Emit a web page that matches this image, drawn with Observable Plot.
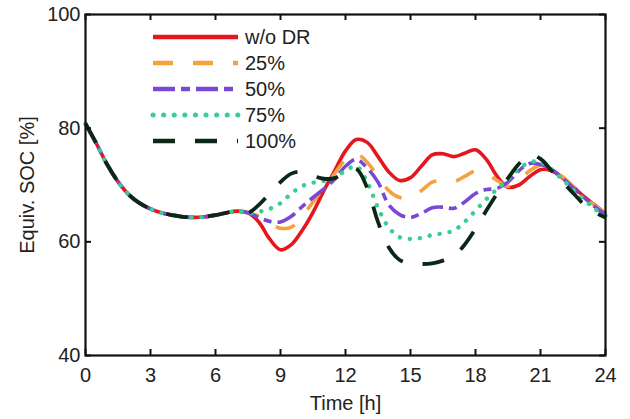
<!DOCTYPE html>
<html>
<head>
<meta charset="utf-8">
<script src="https://cdn.jsdelivr.net/npm/d3@7"></script>
<script src="https://cdn.jsdelivr.net/npm/@observablehq/plot@0.6"></script>
<style>
  body { margin: 0; background: #fff; }
  #chart { position: relative; width: 630px; height: 419px; font-family: "Liberation Sans", Arial, sans-serif; }
  #chart svg.legend { position: absolute; left: 0; top: 0; pointer-events: none; }
</style>
</head>
<body>
<div id="chart"></div>
<script>
// Time axis (hours), sampled every half hour
const hours = [0, 0.5, 1, 1.5, 2, 2.5, 3, 3.5, 4, 4.5, 5, 5.5, 6, 6.5, 7, 7.5,
  8, 8.5, 9, 9.5, 10, 10.5, 11, 11.5, 12, 12.5, 13, 13.5, 14, 14.5, 15, 15.5,
  16, 16.5, 17, 17.5, 18, 18.5, 19, 19.5, 20, 20.5, 21, 21.5, 22, 22.5, 23, 23.5, 24];

// Shared trajectory from 0 h to 7.5 h (all cases identical)
const commonSOC = [80.8, 77.3, 73.6, 70.6, 68.3, 66.8, 65.8, 65.1, 64.7, 64.4, 64.3, 64.4, 64.7, 65.1, 65.4, 65.1];

// Equivalent SOC (%) from 8 h to 24 h for each demand-response level
const socWithoutDR = [63.5, 60.5, 58.6, 59.5, 62.0, 65.2, 69.0, 72.5, 76.0, 78.0, 77.5, 75.0, 72.3, 70.8, 71.3, 73.3,
  75.3, 75.5, 75.0, 75.6, 76.2, 74.5, 71.5, 69.6, 70.0, 71.5, 72.7, 72.5, 71.3, 69.7, 68.0, 66.5, 65.0];
const soc25 = [64.5, 63.3, 62.4, 62.6, 64.5, 67.0, 69.5, 72.0, 74.5, 75.5, 74.0, 71.5, 69.0, 67.8, 67.8, 69.0,
  70.5, 70.8, 70.6, 71.5, 72.5, 72.0, 70.8, 69.8, 70.8, 72.5, 73.5, 73.0, 71.5, 69.8, 68.0, 66.4, 65.0];
const soc50 = [64.3, 63.6, 63.5, 64.5, 66.2, 67.8, 69.3, 71.0, 73.3, 74.5, 73.0, 70.5, 66.5, 64.8, 64.3, 65.0,
  66.0, 66.1, 65.9, 67.0, 68.5, 69.2, 69.4, 70.5, 72.5, 73.8, 73.6, 72.8, 71.3, 69.5, 67.8, 66.2, 64.8];
const soc75 = [65.3, 65.8, 66.8, 68.5, 69.8, 70.4, 70.7, 71.3, 72.5, 73.3, 70.5, 66.0, 62.5, 60.8, 60.5, 60.7,
  61.2, 61.5, 62.0, 63.5, 65.5, 67.5, 69.3, 71.0, 72.8, 74.0, 74.0, 72.8, 71.0, 69.2, 67.5, 65.8, 64.6];
const soc100 = [66.5, 68.5, 70.5, 72.0, 72.3, 71.6, 71.1, 71.2, 72.3, 72.8, 69.5, 63.5, 59.0, 56.8, 56.2, 56.1,
  56.2, 56.7, 57.5, 59.5, 62.3, 65.5, 68.5, 71.2, 73.7, 75.3, 74.6, 72.6, 70.6, 68.6, 66.6, 65.2, 64.3];

const seriesNames = ["w/o DR", "25%", "50%", "75%", "100%"];
const seriesValues = [socWithoutDR, soc25, soc50, soc75, soc100];

const xTicks = [0, 3, 6, 9, 12, 15, 18, 21, 24];
const yTicks = [40, 60, 80, 100];

// Line styling per series
const styles = {
  "w/o DR": {stroke: "#e5161d", dash: null, width: 3.6, cap: "butt"},
  "25%": {stroke: "#f5a140", dash: "20,20", width: 3.6, cap: "butt"},
  "50%": {stroke: "#7a48d8", dash: "20,6,8,6", width: 3.6, cap: "butt"},
  "75%": {stroke: "#38cf92", dash: "0.1,10", width: 4.4, cap: "round"},
  "100%": {stroke: "#0b2716", dash: "22,20", width: 3.8, cap: "butt"}
};

const rows = seriesNames.flatMap((name, i) => {
  const values = commonSOC.concat(seriesValues[i]);
  return hours.map((t, j) => ({series: name, t, soc: values[j]}));
});

const lineMarks = seriesNames.map(name => Plot.line(rows.filter(d => d.series === name), {
  x: "t", y: "soc",
  stroke: styles[name].stroke,
  strokeWidth: styles[name].width,
  strokeDasharray: styles[name].dash,
  strokeLinecap: styles[name].cap,
  curve: "catmull-rom"
}));

const textColor = "#222";
const plotW = 630, plotH = 419;
const mL = 85, mR = 25, mT = 14, mB = 64;
const tickLen = 6;
const innerW = plotW - mL - mR, innerH = plotH - mT - mB;

const chart = Plot.plot({
  width: plotW,
  height: plotH,
  marginLeft: mL,
  marginRight: mR,
  marginTop: mT,
  marginBottom: mB,
  style: {fontFamily: "Liberation Sans, Arial, sans-serif", fontSize: "20px", color: textColor, background: "#fff"},
  x: {domain: [0, 24]},
  y: {domain: [40, 100]},
  marks: [
    ...lineMarks,
    // inward tick marks on all four sides
    Plot.tickX(xTicks, {x: d => d, insetTop: innerH - tickLen, stroke: "#111", strokeWidth: 2}),
    Plot.tickX(xTicks, {x: d => d, insetBottom: innerH - tickLen, stroke: "#111", strokeWidth: 2}),
    Plot.tickY(yTicks, {y: d => d, insetRight: innerW - tickLen, stroke: "#111", strokeWidth: 2}),
    Plot.tickY(yTicks, {y: d => d, insetLeft: innerW - tickLen, stroke: "#111", strokeWidth: 2}),
    Plot.frame({stroke: "#111", strokeWidth: 2.2}),
    // tick labels
    Plot.axisX(xTicks, {anchor: "bottom", tickSize: 0, tickPadding: 12, label: null, fill: textColor}),
    Plot.axisY(yTicks, {anchor: "left", tickSize: 0, tickPadding: 5, label: null, fill: textColor}),
    // axis titles
    Plot.text(["Time [h]"], {text: d => d, frameAnchor: "bottom", dy: 48, lineAnchor: "middle", fill: textColor, fontSize: 20}),
    Plot.text(["Equiv. SOC [%]"], {text: d => d, frameAnchor: "left", dx: -58, rotate: -90, lineAnchor: "middle", textAnchor: "middle", fill: textColor, fontSize: 20})
  ]
});

const container = document.getElementById("chart");
container.appendChild(chart);

// Legend drawn in the upper-left of the plotting area
const legend = d3.select(container).append("svg")
  .attr("class", "legend")
  .attr("width", plotW)
  .attr("height", plotH);

const legendX0 = 153, legendX1 = 238, legendTextX = 245, legendY0 = 37, legendStep = 26;
seriesNames.forEach((name, i) => {
  const y = legendY0 + i * legendStep;
  const s = styles[name];
  legend.append("line")
    .attr("x1", legendX0).attr("x2", legendX1)
    .attr("y1", y).attr("y2", y)
    .attr("stroke", s.stroke)
    .attr("stroke-width", name === "75%" ? 5 : 4.4)
    .attr("stroke-linecap", s.cap)
    .attr("stroke-dasharray", name === "50%" ? "22,6,9,6" : name === "75%" ? "0.1,10.5" : s.dash);
  legend.append("text")
    .attr("x", legendTextX).attr("y", y)
    .attr("dy", "0.35em")
    .attr("fill", textColor)
    .attr("font-size", 20)
    .attr("font-family", "Liberation Sans, Arial, sans-serif")
    .text(name);
});
</script>
</body>
</html>
